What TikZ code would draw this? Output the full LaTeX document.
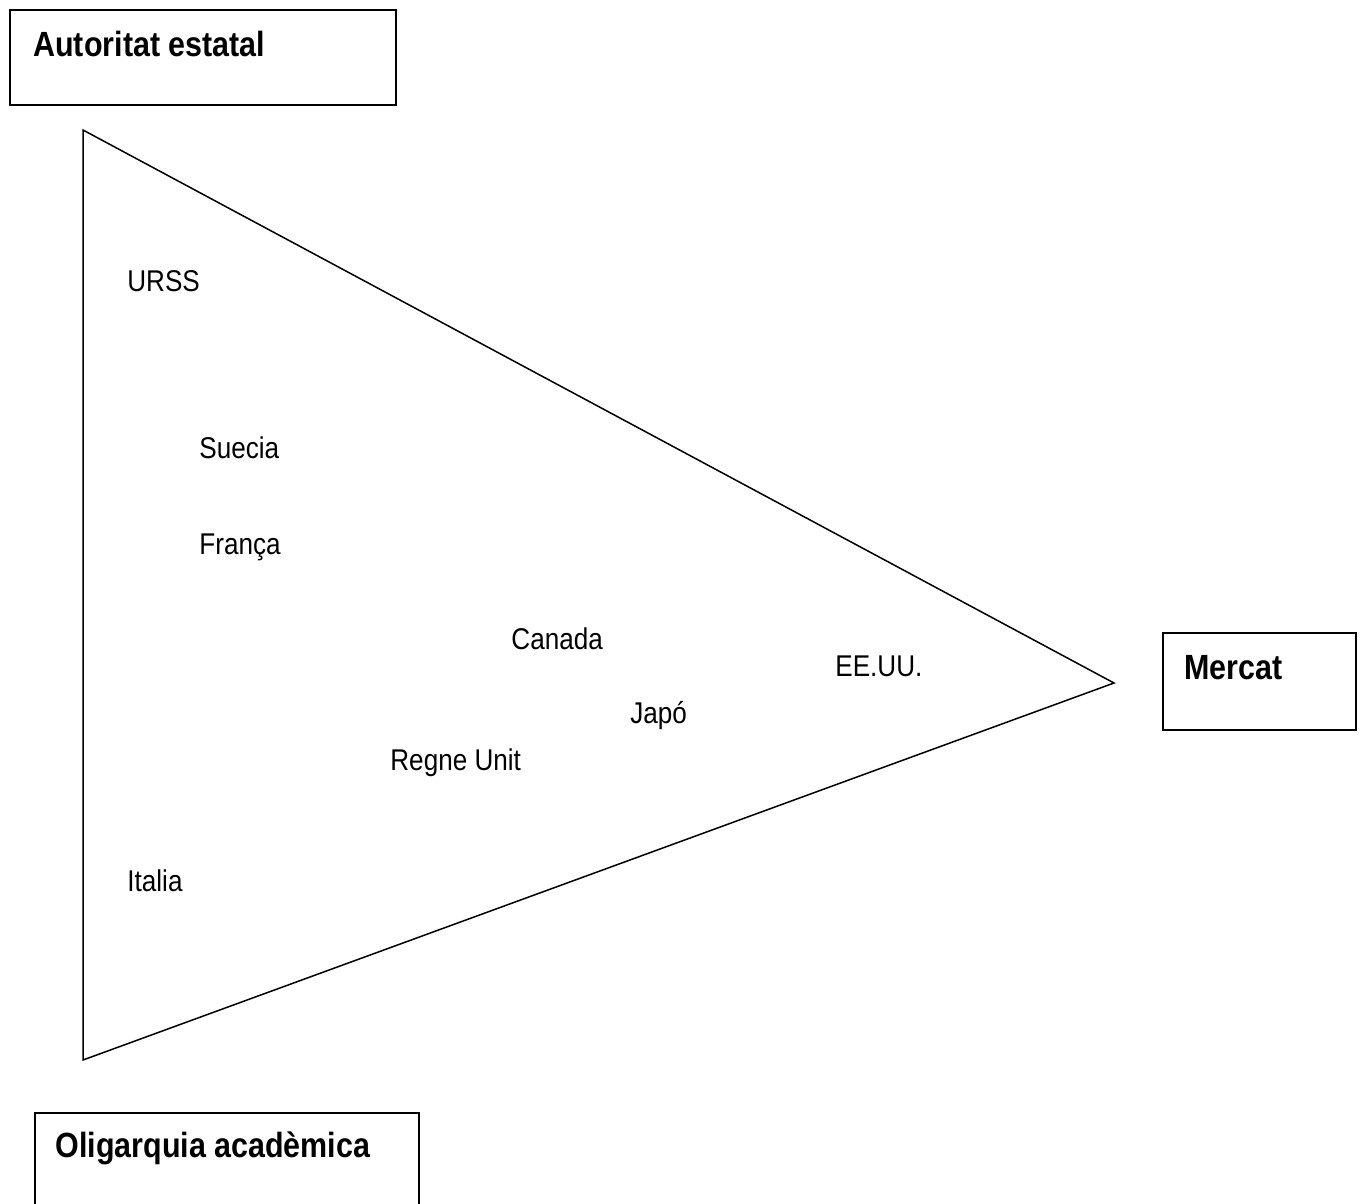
\documentclass[tikz,border=0pt]{standalone}
\usepackage{fontspec}
\setmainfont{Liberation Sans}[FakeStretch=0.87]
\begin{document}
\begin{tikzpicture}[x=0.5pt,y=-0.5pt,
  box/.style={draw, line width=1pt, inner sep=0pt, outer sep=0pt, anchor=north west},
  title/.style={inner sep=0pt, anchor=base west, font=\bfseries\fontsize{17.5}{21}\selectfont},
  country/.style={inner sep=0pt, anchor=base west, font=\fontsize{15}{18}\selectfont},
  edge/.style={line width=0.75pt, line join=miter}]
  \clip (0,0) rectangle (1360,1204);
  \useasboundingbox (0,0) rectangle (1360,1204);

  % the three poles
  \node[box, minimum width=192.75pt, minimum height=47.75pt] (stateBox) at (10,10) {};
  \node[title] (state) at (33,57) {Autoritat estatal};

  \node[box, minimum width=96.25pt, minimum height=48.5pt] (marketBox) at (1163,632.5) {};
  \node[title] (market) at (1184,679) {Mercat};

  \node[box, minimum width=192pt, minimum height=70pt] (oligBox) at (35,1113) {};
  \node[title] (olig) at (55,1157) {Oligarquia acadèmica};

  % coordination triangle
  \coordinate (apexState) at (83,130);
  \coordinate (apexMarket) at (1114,683);
  \coordinate (apexOlig) at (83,1060);
  \draw[edge] (apexState) -- (apexMarket) -- (apexOlig) -- cycle;

  % countries placed inside the triangle
  \node[country] (urss) at (127,291) {URSS};
  \node[country] (suecia) at (199,458) {Suecia};
  \node[country] (franca) at (199,554) {França};
  \node[country] (canada) at (511,649) {Canada};
  \node[country] (eeuu) at (835,676) {EE.UU.};
  \node[country] (japo) at (630,723) {Japó};
  \node[country] (regne) at (390,770) {Regne Unit};
  \node[country] (italia) at (127,891) {Italia};
\end{tikzpicture}
\end{document}
